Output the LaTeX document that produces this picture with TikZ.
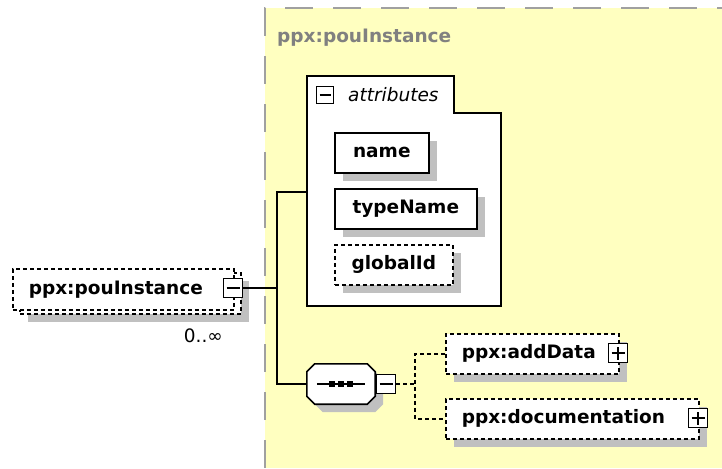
\documentclass[tikz,border=0pt]{standalone}
\usepackage{fontspec}
\setmainfont{DejaVu Sans}
\usepackage{xcolor}
\usepackage{tikz}
\usetikzlibrary{positioning, shadows}
\definecolor{typeyellow}{RGB}{255,255,192}
\definecolor{shadowgray}{RGB}{192,192,192}
\definecolor{bordergray}{RGB}{160,160,160}
\definecolor{titlegray}{RGB}{128,128,128}
\newcommand{\diafont}{\fontsize{18.5pt}{22pt}\selectfont}
% octagon outline round a sequence node
\newcommand{\seqoutline}[1]{([xshift=8pt]#1.north west) -- ([xshift=-8pt]#1.north east)
        -- ([yshift=-8pt]#1.north east) -- ([yshift=8pt]#1.south east) -- ([xshift=-8pt]#1.south east)
        -- ([xshift=8pt]#1.south west) -- ([yshift=8pt]#1.south west) -- ([yshift=-8pt]#1.north west) -- cycle}

\begin{document}
\begin{tikzpicture}[x=1pt, y=-1pt, font=\diafont,
    xsdshadow/.style={drop shadow={shadow xshift=8pt, shadow yshift=-8pt, fill=shadowgray, opacity=1}},
    elembox/.style={draw, line width=1.6pt, fill=white, anchor=north west, minimum height=40pt, inner xsep=16pt, align=left, font=\diafont\bfseries},
    optdash/.style={dash pattern=on 4pt off 3pt},
    attrbox/.style={draw, line width=1.6pt, fill=white, anchor=north west, minimum height=40pt, font=\diafont\bfseries, xsdshadow},
    btnbox/.style={draw, line width=1.6pt, fill=white, minimum size=19pt, inner sep=0pt},
    btnminus/.style={btnbox,
        path picture={\draw[line width=1.6pt] ([xshift=3pt]path picture bounding box.west) -- ([xshift=-3pt]path picture bounding box.east);}},
    btnplus/.style={btnbox,
        path picture={\draw[line width=1.6pt] ([xshift=3pt]path picture bounding box.west) -- ([xshift=-3pt]path picture bounding box.east)
                            ([yshift=3pt]path picture bounding box.south) -- ([yshift=-3pt]path picture bounding box.north);}},
    conn/.style={line width=1.6pt},
    seqbox/.style={minimum width=68pt, minimum height=40pt, inner sep=0pt}]
    \useasboundingbox (0,0) rectangle (722,468);

    % complex type area
    \fill[typeyellow] (265,8) rectangle (722,468);
    \draw[bordergray, line width=2pt, dash pattern=on 28pt off 20pt] (265,468) -- (265,8) -- (722,8);
    \node[anchor=west, inner sep=0pt, text=titlegray, font=\diafont\bfseries] (title) at (277,38) {ppx:pouInstance};

    % repeated element on the left
    \node[elembox, optdash, text width=189pt, minimum height=41pt, xsdshadow] (back) at (19,272) {};
    \node[elembox, optdash, text width=189pt, minimum height=41pt] (pou) at (12,268) {ppx:pouInstance};
    \node[btnminus] (pbtn) at (233,288) {};
    \node[anchor=east, inner sep=0pt] (occurs) at (223,336) {0..∞};

    % attributes group
    \filldraw[fill=white, line width=1.6pt] (307,76) -- (454,76) -- (454,113) -- (501,113) -- (501,306) -- (307,306) -- cycle;
    \node[btnminus, minimum size=17pt] (abtn) at (325,95) {};
    \node[anchor=west, inner sep=0pt, font=\diafont\itshape] (attrs) at (348,95) {attributes};
    \coordinate (attrin) at (307,192);
    \node[attrbox, minimum width=94pt] (name) at (334,132) {name};
    \node[attrbox, minimum width=142pt] (typename) at (334,188) {typeName};
    \node[attrbox, optdash, minimum width=118pt] (globalid) at (334,244) {globalId};

    % sequence (octagon)
    \node[seqbox] (seqshade) at (349,392) {};
    \node[seqbox] (seq) at (341,384) {};
    \fill[shadowgray] \seqoutline{seqshade};
    \filldraw[fill=white, line width=1.6pt] \seqoutline{seq};
    \draw[conn] ([xshift=10pt]seq.west) -- ([xshift=-10pt]seq.east);
    \foreach \dx in {-9,0,9}
        \fill ([xshift=\dx pt]seq.center) +(-2.6,-2.6) rectangle +(2.6,2.6);
    \node[btnminus] (sbtn) at (386,384) {};

    % child elements
    \node[elembox, optdash, text width=141pt, xsdshadow] (adddata) at (445,333) {ppx:addData};
    \node[btnplus] (dbtn) at (618,353) {};
    \node[elembox, optdash, text width=221pt, xsdshadow] (docu) at (445,398) {ppx:documentation};
    \node[btnplus] (cbtn) at (698,418) {};

    % connectors
    \coordinate (fork) at (277,288);
    \coordinate (split) at (415,384);
    \draw[conn] (pbtn.east) -- (fork);
    \draw[conn] (attrin) -| (fork) |- (seq.west);
    \draw[conn, optdash] (sbtn.east) -- (split);
    \draw[conn, optdash] (adddata.west) -| (split) |- (docu.west);
\end{tikzpicture}
\end{document}
